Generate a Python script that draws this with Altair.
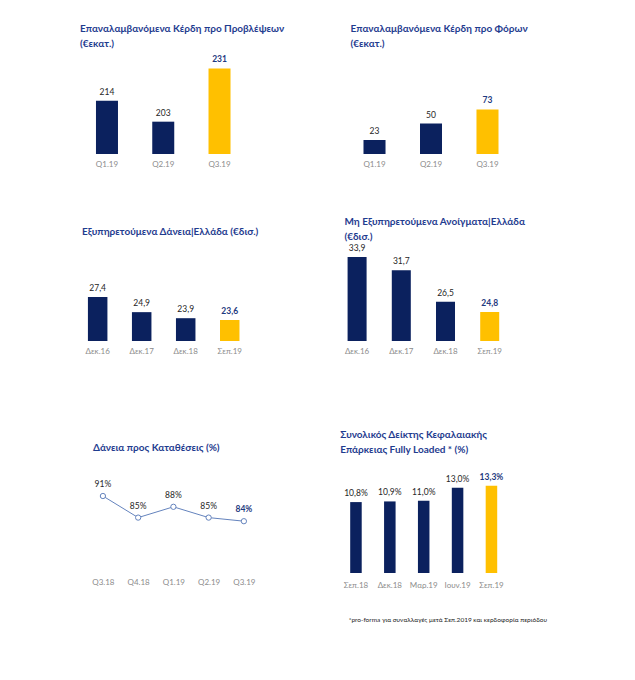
import altair as alt
import pandas as pd

NAVY = "#0B215E"
YELLOW = "#FFC000"
TITLE_C = "#1F3C8F"
LAST_C = "#1F3A80"
GRAY = "#8C8C8C"
TXT = "#262626"
FONT = "Lato"
TFS = 10     # title font size
VFS = 8.5    # value label font size
AFS = 8      # axis label font size

# Panel data
p1_cat = ["Q1.19", "Q2.19", "Q3.19"]
p1_val = [214, 203, 231]
p2_cat = ["Q1.19", "Q2.19", "Q3.19"]
p2_val = [23, 50, 73]
p3_cat = ["Δεκ.16", "Δεκ.17", "Δεκ.18", "Σεπ.19"]
p3_val = [27.4, 24.9, 23.9, 23.6]
p4_cat = ["Δεκ.16", "Δεκ.17", "Δεκ.18", "Σεπ.19"]
p4_val = [33.9, 31.7, 26.5, 24.8]
p5_cat = ["Q3.18", "Q4.18", "Q1.19", "Q2.19", "Q3.19"]
p5_val = [91, 85, 88, 85, 84]
p6_cat = ["Σεπ.18", "Δεκ.18", "Μαρ.19", "Ιουν.19", "Σεπ.19"]
p6_val = [10.8, 10.9, 11.0, 13.0, 13.3]

titles = {
    1: ["Επαναλαμβανόμενα Κέρδη προ Προβλέψεων", "(€εκατ.)"],
    2: ["Επαναλαμβανόμενα Κέρδη προ Φόρων", "(€εκατ.)"],
    3: ["Εξυπηρετούμενα Δάνεια|Ελλάδα (€δισ.)"],
    4: ["Μη Εξυπηρετούμενα Ανοίγματα|Ελλάδα", "(€δισ.)"],
    5: ["Δάνεια προς Καταθέσεις (%)"],
    6: ["Συνολικός Δείκτης Κεφαλαιακής", "Επάρκειας Fully Loaded * (%)"],
}
footnote = "*pro-forma για συναλλαγές μετά Σεπ.2019 και κερδοφορία περιόδου"


def mk_title(lines, offset, dx=0):
    return alt.TitleParams(text=lines, anchor="start", font=FONT, fontSize=TFS,
                           fontWeight="bold", color=TITLE_C, offset=offset,
                           lineHeight=15, dx=dx)


def frame(cats, vals):
    df = pd.DataFrame({"cat": cats, "v": vals})
    df["last"] = [i == len(cats) - 1 for i in range(len(cats))]
    return df


def value_texts(base, x, y, dy):
    normal = base.transform_filter("!datum.last").mark_text(
        baseline="bottom", dy=dy, font=FONT, fontSize=VFS, color=TXT
    ).encode(x=x, y=y, text="lbl:N")
    last = base.transform_filter("datum.last").mark_text(
        baseline="bottom", dy=dy, font=FONT, fontSize=VFS, color=LAST_C,
        fontWeight="bold"
    ).encode(x=x, y=y, text="lbl:N")
    return [normal, last]


def bar_panel(cats, vals, domain, width, height, pi, po, title, t_off, dec,
              label_pad=6, pct=False, axis_title=None, dx=0):
    df = frame(cats, vals)
    if dec:
        expr = "replace(format(datum.v, '.1f'), '.', ',')"
    else:
        expr = "format(datum.v, 'd')"
    if pct:
        expr = expr + " + '%'"
    axis_kwargs = dict(labelAngle=0, domain=False, ticks=False, labelFont=FONT,
                       labelFontSize=AFS, labelColor=GRAY, labelPadding=label_pad)
    if axis_title:
        axis = alt.Axis(title=axis_title, titleFont=FONT, titleFontSize=6.5,
                        titleFontWeight="normal", titleColor=TXT,
                        titleAnchor="start", titleAlign="left",
                        titleBaseline="middle", titleX=8, titleY=46,
                        **axis_kwargs)
    else:
        axis = alt.Axis(title=None, **axis_kwargs)
    x = alt.X("cat:N", sort=cats, axis=axis,
              scale=alt.Scale(paddingInner=pi, paddingOuter=po))
    yscale = alt.Scale(domain=domain, zero=False, nice=False)
    y = alt.Y("v:Q", scale=yscale, axis=None)
    base = alt.Chart(df).transform_calculate(lbl=expr)
    bars = base.mark_bar().encode(
        x=x,
        y=y,
        y2=alt.datum(domain[0]),
        color=alt.condition("datum.last", alt.value(YELLOW), alt.value(NAVY)),
    )
    layers = [bars] + value_texts(base, alt.X("cat:N", sort=cats), y, -4)
    return alt.layer(*layers).properties(
        width=width, height=height, title=mk_title(title, t_off, dx))


p1 = bar_panel(p1_cat, p1_val, [186, 240.7], 166.5, 104, 0.609, 0.284, titles[1], 1.5, False)
p2 = bar_panel(p2_cat, p2_val, [0, 170.5], 161, 104, 0.61, 0.23, titles[2], 1.5, False)
p3 = bar_panel(p3_cat, p3_val, [20.13, 36.83], 167.4, 101, 0.557, 0.18, titles[3], 3.5, True, dx=2)
p4 = bar_panel(p4_cat, p4_val, [20.0, 36.72], 155.6, 101, 0.57, 0.045, titles[4], -1.5, True)
p6 = bar_panel(p6_cat, p6_val, [0, 16.6], 167, 109, 0.66, 0.295, titles[6], 9.5, True,
               label_pad=8, pct=True, axis_title=footnote)

# line panel
df5 = frame(p5_cat, p5_val)
x5 = alt.X("cat:N", sort=p5_cat, scale=alt.Scale(type="point", padding=0.65),
           axis=alt.Axis(title=None, labelAngle=0, domain=False, ticks=False,
                         labelFont=FONT, labelFontSize=AFS, labelColor=GRAY,
                         labelPadding=5))
y5 = alt.Y("v:Q", scale=alt.Scale(domain=[69.6, 99.9], zero=False, nice=False), axis=None)
b5 = alt.Chart(df5).transform_calculate(lbl="format(datum.v, 'd') + '%'")
line5 = b5.mark_line(color="#6483BD", strokeWidth=1).encode(x=x5, y=y5)
pts5 = b5.mark_point(filled=True, fill="white", stroke="#6483BD", strokeWidth=1,
                     size=28, opacity=1).encode(x=x5, y=y5)
p5 = alt.layer(line5, pts5, *value_texts(b5, x5, y5, -7)).properties(
    width=186.8, height=109, title=mk_title(titles[5], 11.5, dx=13))

row1 = alt.hconcat(p1, p2, spacing=103.5, bounds="flush")
row2 = alt.hconcat(p3, p4, spacing=97.6, bounds="flush")
row3 = alt.hconcat(p5, p6, spacing=73.2, bounds="flush")

chart = alt.vconcat(
    alt.vconcat(row1, row2, spacing=48),
    row3, spacing=74,
).properties(
    padding={"left": 72, "top": 15, "right": 10, "bottom": 10},
    background="white",
).configure_view(stroke=None)

chart.save("out.html", embed_options={"renderer": "svg", "actions": False})
